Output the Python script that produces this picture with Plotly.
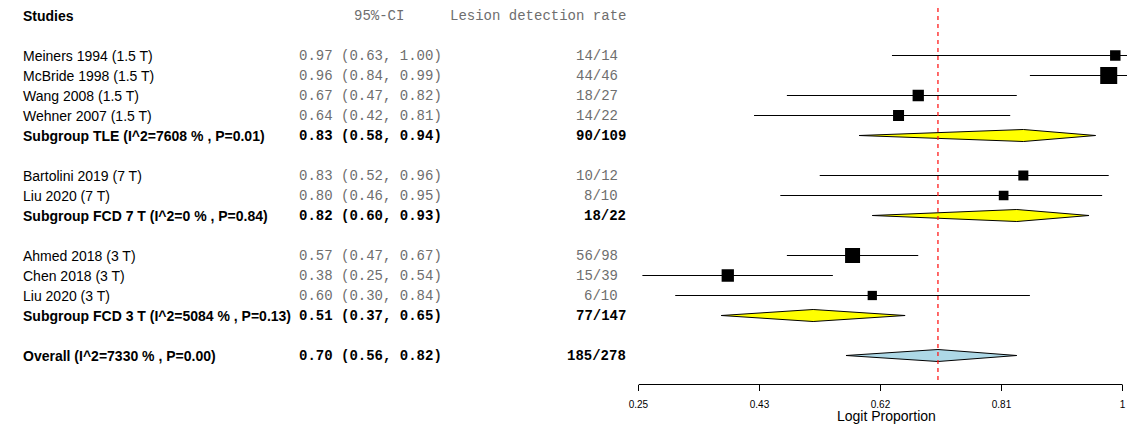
import numpy as np
import plotly.graph_objects as go

# ---------------- data ----------------
STUDY_NAMES = ["Meiners 1994 (1.5 T)", "McBride 1998 (1.5 T)", "Wang 2008 (1.5 T)", "Wehner 2007 (1.5 T)",
               "Bartolini 2019 (7 T)", "Liu 2020 (7 T)",
               "Ahmed 2018 (3 T)", "Chen 2018 (3 T)", "Liu 2020 (3 T)"]
STUDY_GROUP = [0, 0, 0, 0, 1, 1, 2, 2, 2]
STUDY_EST = [0.97, 0.96, 0.67, 0.64, 0.83, 0.80, 0.57, 0.38, 0.60]
STUDY_LO = [0.63, 0.84, 0.47, 0.42, 0.52, 0.46, 0.47, 0.25, 0.30]
STUDY_HI = [1.00, 0.99, 0.82, 0.81, 0.96, 0.95, 0.67, 0.54, 0.84]
STUDY_EVENTS = [14, 44, 18, 14, 10, 8, 56, 15, 6]
STUDY_TOTAL = [14, 46, 27, 22, 12, 10, 98, 39, 10]
STUDY_WEIGHT = [8.4, 22.2, 9.8, 9.3, 7.7, 7.2, 17.2, 11.6, 6.6]

GROUP_LABELS = ["Subgroup TLE (I^2=7608 % , P=0.01)",
                "Subgroup FCD 7 T (I^2=0 % , P=0.84)",
                "Subgroup FCD 3 T (I^2=5084 % , P=0.13)"]
GROUP_EST = [0.83, 0.82, 0.51]
GROUP_LO = [0.58, 0.60, 0.37]
GROUP_HI = [0.94, 0.93, 0.65]
GROUP_EVENTS = [90, 18, 77]
GROUP_TOTAL = [109, 22, 147]

OVERALL_LABEL = "Overall (I^2=7330 % , P=0.00)"
OVERALL_EST = 0.70
OVERALL_LO = 0.56
OVERALL_HI = 0.82
OVERALL_EVENTS = 185
OVERALL_TOTAL = 278

HEADERS = ["Studies", "95%-CI", "Lesion detection rate"]
TICK_LABELS = ["0.25", "0.43", "0.62", "0.81", "1"]
AXIS_TITLE = "Logit Proportion"

# ---------------- layout constants ----------------
# page body has an 8px margin; figure is sized to fill the rest of the window
W, H = 1127, 421
X_MIN, X_MAX = 0.244, 1.0
TICK_LAST = 0.981
PLOT_LEFT_PX = 626
Y_TOP = -0.375
Y_BOTTOM = Y_TOP + 18.8
SANS = "Liberation Sans, Arial, sans-serif"
MONO = "Liberation Mono, Courier New, monospace"
GREY = "#6e6e6e"
FS = 14

# ---------------- row assignment ----------------
study_rows = [0] * len(STUDY_NAMES)
group_rows = []
row = 2
for g in range(len(GROUP_LABELS)):
    for i, gi in enumerate(STUDY_GROUP):
        if gi == g:
            study_rows[i] = row
            row += 1
    group_rows.append(row)
    row += 2
overall_row = row

fig = go.Figure()

# CI lines
cx, cy = [], []
for lo, hi, r in zip(STUDY_LO, STUDY_HI, study_rows):
    cx += [lo, hi, None]
    cy += [r, r, None]
fig.add_trace(go.Scatter(x=cx, y=cy, mode="lines", line=dict(color="black", width=1),
                         opacity=1, hoverinfo="skip", showlegend=False, cliponaxis=False))

# squares
sizes = [3.61 * np.sqrt(w) for w in STUDY_WEIGHT]
fig.add_trace(go.Scatter(x=STUDY_EST, y=study_rows, mode="markers", opacity=1,
                         marker=dict(symbol="square", size=sizes, color="black", opacity=1,
                                     line=dict(width=0)),
                         showlegend=False))

# diamonds
HALF = 0.3
def diamond(lo, est, hi, r, fill):
    fig.add_trace(go.Scatter(x=[lo, est, hi, est, lo], y=[r, r - HALF, r, r + HALF, r],
                             mode="lines", fill="toself", fillcolor=fill,
                             line=dict(color="black", width=1), hoverinfo="skip", showlegend=False))

for lo, est, hi, r in zip(GROUP_LO, GROUP_EST, GROUP_HI, group_rows):
    diamond(lo, est, hi, r, "#FFFF00")
diamond(OVERALL_LO, OVERALL_EST, OVERALL_HI, overall_row, "#ADD8E6")

# ---------------- text columns ----------------
ann = []
def px(x):
    return x / W

def txt(x, r, s, font, anchor="left", color="black", bold=False, size=FS):
    ann.append(dict(x=px(x), y=r, xref="paper", yref="y", text=("<b>%s</b>" % s) if bold else s,
                    showarrow=False, xanchor=anchor, yanchor="middle",
                    font=dict(family=font, size=size, color=color)))

NAME_X, CI_X, CNT_X, CNT_XB = 3, 281, 607, 615
txt(NAME_X, 0, HEADERS[0], SANS, bold=True)
txt(337, 0, HEADERS[1], MONO, color=GREY)
txt(CNT_XB, 0, HEADERS[2], MONO, anchor="right", color=GREY)

def ci_str(e, l, h):
    return "%.2f (%.2f, %.2f)" % (e, l, h)

for i, name in enumerate(STUDY_NAMES):
    r = study_rows[i]
    txt(NAME_X, r, name, SANS)
    txt(CI_X, r, ci_str(STUDY_EST[i], STUDY_LO[i], STUDY_HI[i]), MONO, color=GREY)
    txt(CNT_X, r, "%d/%d" % (STUDY_EVENTS[i], STUDY_TOTAL[i]), MONO, anchor="right", color=GREY)

for g, lab in enumerate(GROUP_LABELS):
    r = group_rows[g]
    txt(NAME_X, r, lab, SANS, bold=True)
    txt(CI_X, r, ci_str(GROUP_EST[g], GROUP_LO[g], GROUP_HI[g]), MONO, bold=True)
    txt(CNT_XB, r, "%d/%d" % (GROUP_EVENTS[g], GROUP_TOTAL[g]), MONO, anchor="right", bold=True)

txt(NAME_X, overall_row, OVERALL_LABEL, SANS, bold=True)
txt(CI_X, overall_row, ci_str(OVERALL_EST, OVERALL_LO, OVERALL_HI), MONO, bold=True)
txt(CNT_XB, overall_row, "%d/%d" % (OVERALL_EVENTS, OVERALL_TOTAL), MONO, anchor="right", bold=True)

# axis title
ann.append(dict(x=(X_MIN + X_MAX) / 2, y=-0.085, xref="x", yref="paper", text=AXIS_TITLE,
                showarrow=False, xanchor="center", yanchor="middle",
                font=dict(family=SANS, size=FS, color="black")))

tickvals = list(np.linspace(X_MIN, TICK_LAST, len(TICK_LABELS)))

plot_h = H - 45
shapes = [
    dict(type="line", xref="x", yref="y", x0=OVERALL_EST, x1=OVERALL_EST, y0=Y_TOP, y1=Y_BOTTOM,
         line=dict(color="#FF1A1A", width=1.3, dash="4px,4px"), layer="above"),
    dict(type="line", xref="x", yref="paper", x0=tickvals[0], x1=tickvals[-1],
         y0=-0.5 / plot_h, y1=-0.5 / plot_h, line=dict(color="black", width=1)),
]

fig.update_layout(
    width=W, height=H, margin=dict(l=0, r=0, t=0, b=45, pad=0),
    paper_bgcolor="white", plot_bgcolor="white",
    showlegend=False, annotations=ann, shapes=shapes,
    xaxis=dict(domain=[PLOT_LEFT_PX / W, 1], range=[X_MIN, X_MAX], showgrid=False, zeroline=False,
               showline=False, tickmode="array", tickvals=tickvals, ticktext=TICK_LABELS,
               ticks="outside", ticklen=6, tickcolor="black", tickwidth=1,
               ticklabelstandoff=5,
               tickfont=dict(family=SANS, size=10, color="black")),
    yaxis=dict(range=[Y_BOTTOM, Y_TOP], visible=False, showgrid=False, zeroline=False),
)

fig.write_html("out.html")
